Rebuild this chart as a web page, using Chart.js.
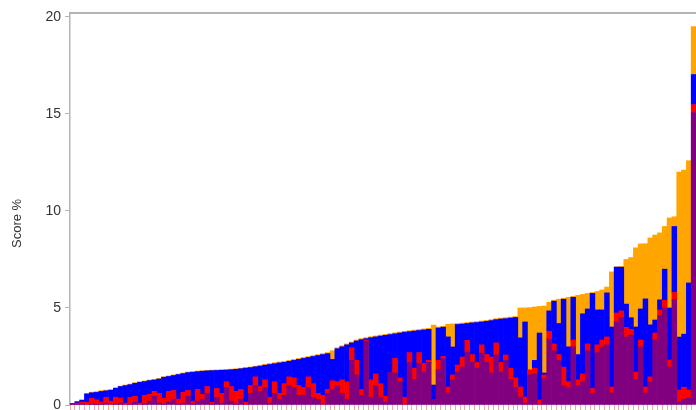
<!DOCTYPE html>
<html>
<head>
<meta charset="utf-8">
<script src="https://cdn.jsdelivr.net/npm/chart.js@4.4.0/dist/chart.umd.min.js"></script>
<style>
  body { margin: 0; background: #fff; overflow: hidden; }
  #wrap { width: 696px; height: 410px; }
</style>
</head>
<body>
<div id="wrap"><canvas id="mycanvas" width="696" height="410"></canvas></div>
<script>
// stacked score parts per item (bottom -> top)
var purple = [
  0.05, 0.05, 0.05, 0.0, 0.05, 0.02, 0.05, 0.1, 0.0, 0.05,
  0.1, 0.0, 0.05, 0.15, 0.0, 0.05, 0.2, 0.45, 0.1, 0.05,
  0.15, 0.3, 0.05, 0.1, 0.45, 0.05, 0.2, 0.3, 0.6, 0.05,
  0.4, 0.1, 0.9, 0.2, 0.05, 0.3, 0.0, 0.6, 1.0, 0.7,
  0.9, 0.1, 0.6, 0.3, 0.5, 1.0, 0.9, 0.5, 0.5, 0.9,
  0.4, 0.3, 0.0, 0.6, 0.8, 1.0, 0.6, 0.3, 2.3, 1.55,
  0.5, 3.3, 0.4, 1.0, 0.4, 0.15, 1.65, 1.65, 1.2, 0.0,
  2.2, 1.3, 2.15, 1.7, 2.2, 0.26, 1.8, 2.4, 0.62, 1.29,
  1.7, 1.96, 2.73, 2.2, 1.9, 2.68, 2.2, 1.65, 2.58, 1.7,
  2.3, 1.3, 0.9, 0.41, 0.1, 1.55, 1.6, 0.0, 1.35, 3.4,
  2.8, 2.3, 1.0, 0.9, 3.0, 1.0, 1.2, 2.8, 0.6, 2.7,
  2.99, 3.1, 0.62, 4.28, 4.5, 3.5, 3.6, 1.29, 3.0, 0.62,
  1.19, 3.35, 4.6, 5.0, 1.96, 5.44, 0.15, 0.3, 0.36, 15.07
];
var red = [
  0, 0.05, 0.1, 0.15, 0.3, 0.25, 0.1, 0.3, 0.2, 0.35,
  0.25, 0.1, 0.35, 0.3, 0.1, 0.45, 0.35, 0.25, 0.5, 0.3,
  0.55, 0.45, 0.25, 0.55, 0.3, 0.15, 0.6, 0.25, 0.35, 0.1,
  0.45, 0.5, 0.3, 0.75, 0.65, 0.5, 0.15, 0.4, 0.45, 0.25,
  0.4, 0.3, 0.6, 0.3, 0.6, 0.45, 0.5, 0.5, 0.4, 0.55,
  0.7, 0.3, 0.5, 0.2, 0.45, 0.2, 0.7, 0.9, 0.65, 0.75,
  0.3, 0.05, 0.9, 0.6, 0.7, 0.3, 0.0, 0.75, 0.2, 0.4,
  0.5, 0.6, 0.55, 0.45, 0.1, 0.0, 0.5, 0.1, 0.31, 0.26,
  0.36, 0.51, 0.6, 0.4, 0.3, 0.42, 0.4, 0.82, 0.62, 0.5,
  0.28, 0.6, 0.5, 0.52, 0.31, 0.25, 0.3, 0.26, 0.2, 0.4,
  0.35, 0.3, 0.95, 0.3, 0.35, 0.3, 0.4, 0.35, 0.25, 0.4,
  0.36, 0.41, 0.31, 0.46, 0.35, 0.5, 0.3, 0.41, 0.35, 0.31,
  0.26, 0.36, 0.3, 0.4, 0.36, 0.36, 0.62, 0.62, 0.41, 0.41
];
var blue = [
  0.03, 0.07, 0.1, 0.42, 0.28, 0.38, 0.55, 0.33, 0.56, 0.46,
  0.6, 0.9, 0.65, 0.67, 1.07, 0.71, 0.71, 0.59, 0.74, 1.08,
  0.77, 0.77, 1.27, 0.97, 0.92, 1.49, 0.92, 1.19, 0.81, 1.62,
  0.93, 1.19, 0.6, 0.87, 1.14, 1.07, 1.75, 0.93, 0.52, 1.05,
  0.75, 1.69, 0.93, 1.57, 1.1, 0.8, 0.9, 1.35, 1.5, 1.0,
  1.4, 1.95, 2.1, 1.85, 1.1, 1.7, 1.7, 1.9, 0.25, 1.0,
  2.57, 0.07, 2.17, 1.91, 2.45, 3.14, 1.98, 1.27, 2.31, 3.35,
  1.08, 1.91, 1.14, 1.72, 1.6, 0.77, 1.67, 1.51, 2.58, 1.44,
  2.09, 1.7, 0.87, 1.63, 2.05, 1.18, 1.71, 1.88, 1.2, 2.23,
  1.87, 2.58, 3.11, 2.53, 3.87, 0.0, 0.4, 3.45, 0.1, 1.05,
  2.2, 1.6, 3.5, 1.8, 2.2, 1.3, 3.1, 1.8, 4.9, 1.8,
  1.55, 2.27, 3.09, 2.37, 2.25, 1.2, 0.6, 2.32, 1.6, 4.54,
  2.68, 0.67, 0.52, 1.6, 2.68, 3.4, 2.73, 2.73, 5.52, 1.55
];
var orange = [
  0, 0, 0.01, 0.03, 0.03, 0.04, 0.04, 0.04, 0.04, 0.04,
  0.03, 0.03, 0.03, 0.03, 0.03, 0.03, 0.03, 0.03, 0.03, 0.03,
  0.03, 0.03, 0.03, 0.03, 0.03, 0.03, 0.03, 0.03, 0.03, 0.03,
  0.03, 0.03, 0.03, 0.03, 0.03, 0.03, 0.03, 0.03, 0.03, 0.05,
  0.05, 0.05, 0.05, 0.05, 0.05, 0.05, 0.05, 0.05, 0.05, 0.05,
  0.05, 0.05, 0.05, 0.05, 0.45, 0.05, 0.05, 0.05, 0.05, 0.05,
  0.05, 0.05, 0.05, 0.05, 0.05, 0.05, 0.05, 0.05, 0.05, 0.05,
  0.05, 0.05, 0.05, 0.05, 0.05, 3.09, 0.05, 0.05, 0.65, 1.19,
  0.05, 0.05, 0.05, 0.05, 0.05, 0.05, 0.05, 0.05, 0.05, 0.05,
  0.05, 0.05, 0.05, 1.54, 0.72, 3.22, 2.75, 1.37, 3.45, 0.45,
  0.05, 1.25, 0.05, 2.55, 0.05, 3.05, 1.0, 0.8, 0.05, 0.95,
  1.03, 0.3, 2.84, 0.0, 0.05, 2.3, 3.1, 4.08, 3.35, 2.84,
  4.48, 4.38, 3.45, 2.2, 4.64, 0.5, 8.5, 8.45, 6.3, 2.47
];
var yTicks = [0, 5, 10, 15, 20];
var yTitle = 'Score %';

// one category per item, no labels are shown
var labels = purple.map(function (v, i) { return String(i + 1); });

var axisGrey = '#b4b4b4';
var font = { family: '"Liberation Sans", Arial, sans-serif', size: 14 };

function part(data, colour) {
  return {
    data: data,
    backgroundColor: colour,
    borderWidth: 0,
    barPercentage: 1.0,
    categoryPercentage: 1.0,
    stack: 's'
  };
}

var ctx = document.getElementById('mycanvas');

var barGraph = new Chart(ctx, {
  type: 'bar',
  data: {
    labels: labels,
    datasets: [
      part(purple, '#800080'),
      part(red, '#ff0000'),
      part(blue, '#0000ff'),
      part(orange, '#ffa500')
    ]
  },
  options: {
    responsive: false,
    animation: false,
    devicePixelRatio: 1,
    layout: { padding: { top: 13, right: 0, bottom: 0, left: 0 } },
    plugins: { legend: { display: false }, tooltip: { enabled: false } },
    scales: {
      x: {
        stacked: true,
        ticks: { display: false },
        grid: { drawOnChartArea: false, drawTicks: true, tickLength: 5, color: '#f3a9a9' },
        border: { display: false }
      },
      top: {
        type: 'linear',
        position: 'top',
        ticks: { display: false },
        grid: { display: false, drawTicks: false, tickLength: 0 },
        border: { color: axisGrey, width: 2 }
      },
      y: {
        stacked: true,
        min: 0,
        max: 20.2,
        afterBuildTicks: function (scale) {
          scale.ticks = yTicks.map(function (v) { return { value: v }; });
        },
        afterFit: function (scale) {
          // fixed left margin, let the end labels hang outside the plot
          scale.width = 70;
          scale.paddingTop = 0;
          scale.paddingBottom = 0;
        },
        ticks: { color: '#333', font: font, padding: 4 },
        grid: { drawOnChartArea: false, tickLength: 5, color: axisGrey },
        border: { color: axisGrey, width: 1.5 },
        title: {
          display: true,
          text: yTitle + '        ',
          color: '#333',
          font: { family: font.family, size: 13 },
          padding: { top: 10, bottom: 4 }
        }
      }
    }
  }
});
</script>
</body>
</html>
